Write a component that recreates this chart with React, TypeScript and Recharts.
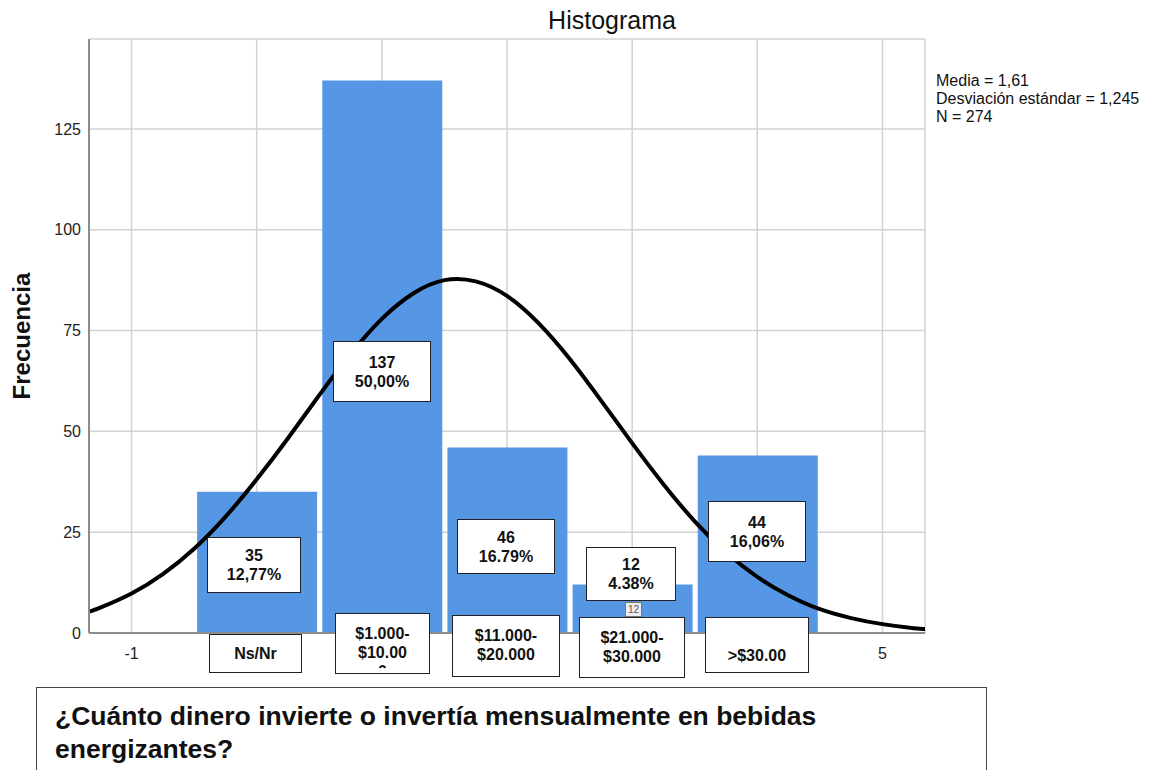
import React from "react";
import { ComposedChart, Bar, Line, XAxis, YAxis, CartesianGrid } from "recharts";

const FONT = '"Liberation Sans", Arial, Helvetica, sans-serif';

// bins of the histogram
const binCenters = [0, 1, 2, 3, 4];
const frequencies = [35, 137, 46, 12, 44];
const percentLabels = ["12,77%", "50,00%", "16.79%", "4.38%", "16,06%"];
const categories = ["Ns/Nr", "$1.000-\n$10.00\n0", "$11.000-\n$20.000", "$21.000-\n$30.000", ">$30.00"];

// normal curve
const curveX = [-1.34, -1.25, -1, -0.75, -0.5, -0.25, 0, 0.25, 0.5, 0.75, 1, 1.25, 1.5, 1.75, 2, 2.25, 2.5, 2.75, 3, 3.25, 3.5, 3.75, 4, 4.25, 4.5, 4.75, 5, 5.25, 5.34];
const curveY = [5.3, 6.3, 9.8, 14.6, 20.9, 28.8, 38.1, 48.3, 59.0, 69.2, 77.9, 84.2, 87.5, 87.2, 83.6, 76.9, 68.0, 57.7, 47.1, 36.9, 27.7, 20.0, 13.9, 9.3, 5.9, 3.7, 2.2, 1.2, 1.0];

const xTicks = [-1, 0, 1, 2, 3, 4, 5];
const xTickLabels = ["-1", "", "", "", "", "", "5"]; // 0..4 sit under the category boxes
const yTicks = [0, 25, 50, 75, 100, 125];

const stats = ["Media = 1,61", "Desviación estándar = 1,245", "N = 274"];
const question = "¿Cuánto dinero invierte o invertía mensualmente en bebidas energizantes?";

const chartData = curveX.map((x, i) => {
  const b = binCenters.indexOf(x);
  return b >= 0 ? { x, curve: curveY[i], bin: x, freq: frequencies[b] } : { x, curve: curveY[i] };
});

// annotation boxes (layout only)
const valueBoxes = [
  { left: 207, top: 537, w: 94, h: 56 },
  { left: 333, top: 341, w: 98, h: 61 },
  { left: 457, top: 519, w: 98, h: 55 },
  { left: 586, top: 547, w: 90, h: 54 },
  { left: 708, top: 501, w: 98, h: 61 },
];
const catBoxes = [
  { left: 209, top: 634, w: 93, h: 39, pad: 9, clip: 0 },
  { left: 335, top: 613, w: 95, h: 61, pad: 10, clip: 44 },
  { left: 452, top: 615, w: 108, h: 62, pad: 10, clip: 0 },
  { left: 579, top: 617, w: 106, h: 61, pad: 10, clip: 0 },
  { left: 705, top: 617, w: 104, h: 56, pad: 28, clip: 0 },
];

const boxStyle: React.CSSProperties = {
  position: "absolute",
  boxSizing: "border-box",
  background: "#fff",
  border: "1.5px solid #222",
  fontFamily: FONT,
  fontWeight: 700,
  fontSize: 16,
  lineHeight: "19px",
  textAlign: "center",
  color: "#111",
  whiteSpace: "pre",
  overflow: "hidden",
};

const XTick = (props: any) => {
  const { x, y, payload } = props;
  const label = xTickLabels[xTicks.indexOf(payload.value)];
  if (!label) return null;
  return (
    <text x={x} y={y} dy={12} textAnchor="middle" fill="#222" fontSize={16} fontFamily={FONT}>{label}</text>
  );
};

export default function App() {
  return (
    <div style={{ position: "absolute", left: 0, top: 0, width: 1150, height: 770, overflow: "hidden", background: "#fff" }}>
      <ComposedChart width={1150} height={770} data={chartData}
        margin={{ top: 39, right: 225, bottom: 107, left: 49 }}>
        <CartesianGrid stroke="#d2d2d2" strokeWidth={1.5} />
        <XAxis dataKey="x" type="number" domain={[-1.34, 5.34]} ticks={xTicks} allowDataOverflow
          height={30} tickLine={false} tickMargin={8} stroke="#8c8c8c" strokeWidth={2} tick={<XTick />} />
        <XAxis xAxisId="bins" dataKey="bin" type="number" domain={[-1.34, 5.34]} allowDataOverflow hide />
        <YAxis type="number" domain={[0, 147.3]} ticks={yTicks} allowDataOverflow width={40}
          tickLine={false} stroke="#8c8c8c" strokeWidth={2}
          tick={{ fill: "#222", fontSize: 16, fontFamily: FONT }} />
        <Bar xAxisId="bins" dataKey="freq" barSize={120} fill="#5596e5" isAnimationActive={false} />
        <Line dataKey="curve" type="natural" stroke="#000" strokeWidth={4} dot={false} isAnimationActive={false} />
      </ComposedChart>

      <div style={{ position: "absolute", left: 512, top: 5, width: 200, lineHeight: "30px", textAlign: "center", fontFamily: FONT, fontSize: 25, color: "#111" }}>
        Histograma
      </div>

      <div style={{ position: "absolute", left: 936, top: 72, fontFamily: FONT, fontSize: 16, lineHeight: "18px", color: "#111", whiteSpace: "nowrap" }}>
        {stats.map(s => <div key={s}>{s}</div>)}
      </div>

      <div style={{ position: "absolute", left: -78, top: 321, width: 200, height: 30, lineHeight: "30px", textAlign: "center", fontFamily: FONT, fontWeight: 700, fontSize: 24, color: "#111", transform: "rotate(-90deg)" }}>
        Frecuencia
      </div>

      {valueBoxes.map((b, i) => (
        <div key={"v" + i} style={{ ...boxStyle, left: b.left, top: b.top, width: b.w, height: b.h, paddingTop: (b.h - 40) / 2 }}>
          {frequencies[i] + "\n" + percentLabels[i]}
        </div>
      ))}

      <div style={{ ...boxStyle, left: 625, top: 602, width: 17, height: 15, border: "1px solid #777", background: "#eee", fontWeight: 400, fontSize: 10, lineHeight: "13px", color: "#555" }}>
        {frequencies[3]}
      </div>

      {catBoxes.map((b, i) => (
        <div key={"c" + i} style={{ ...boxStyle, left: b.left, top: b.top, width: b.w, height: b.h, paddingTop: b.pad }}>
          <div style={{ height: b.clip || undefined, overflow: "hidden" }}>{categories[i]}</div>
        </div>
      ))}

      <div style={{ position: "absolute", boxSizing: "border-box", left: 36, top: 687, width: 951, height: 110, border: "1.5px solid #444", background: "#fff", padding: "12px 18px", fontFamily: FONT, fontWeight: 700, fontSize: 26.5, lineHeight: "33px", color: "#111" }}>
        {question}
      </div>
    </div>
  );
}
